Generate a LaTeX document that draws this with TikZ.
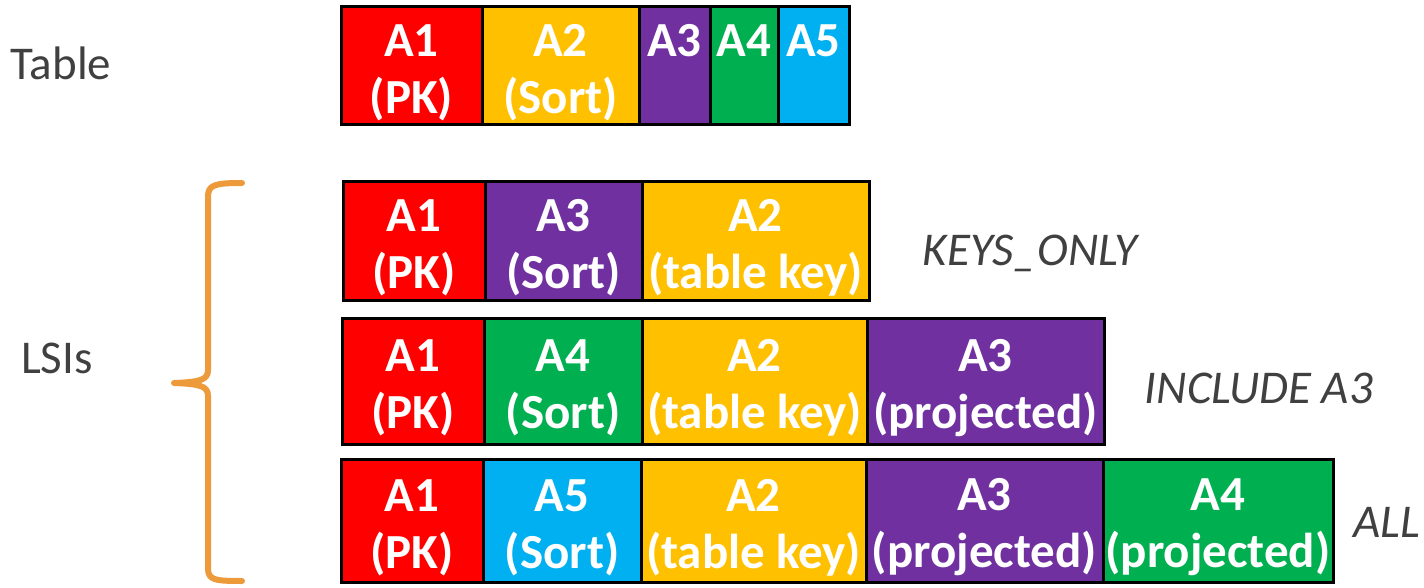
\documentclass[tikz,border=0pt]{standalone}
\usepackage{fontspec}
\setmainfont{Carlito}
\definecolor{pkred}{HTML}{FF0000}
\definecolor{keygold}{HTML}{FFC000}
\definecolor{attpurple}{HTML}{7030A0}
\definecolor{attgreen}{HTML}{00B050}
\definecolor{attblue}{HTML}{00B0F0}
\definecolor{labelgray}{HTML}{404040}
\definecolor{braceorange}{HTML}{ED9A3A}

\begin{document}
\begin{tikzpicture}[x=1pt,y=-1pt]
\tikzset{cell/.style = {draw, line width=3pt, anchor=north west, outer sep=0pt, inner sep=0pt, text=white, align=center, text height=103pt, font=\fontsize{49}{57}\selectfont\bfseries},
         lbl/.style = {text=labelgray, font=\fontsize{47}{56}\selectfont},
         mode/.style = {lbl, font=\fontsize{47}{56}\selectfont\itshape}}
\useasboundingbox (0,0) rectangle (1424,588);

% base table
\node[cell, fill=pkred, minimum width=141pt, minimum height=118pt] (T1) at (341,7) {A1\\(PK)};
\node[cell, fill=keygold, minimum width=157pt, minimum height=118pt] (T2) at (482,7) {A2\\(Sort)};
\node[cell, fill=attpurple, minimum width=71pt, minimum height=118pt] (T3) at (639,7) {A3\\\vphantom{(PK)}};
\node[cell, fill=attgreen, minimum width=68pt, minimum height=118pt] (T4) at (710,7) {A4\\\vphantom{(PK)}};
\node[cell, fill=attblue, minimum width=71pt, minimum height=118pt] (T5) at (778,7) {A5\\\vphantom{(PK)}};

% LSI with KEYS_ONLY
\node[cell, fill=pkred, minimum width=142pt, minimum height=118pt] (K1) at (343,182) {A1\\(PK)};
\node[cell, fill=attpurple, minimum width=157pt, minimum height=118pt] (K2) at (485,182) {A3\\(Sort)};
\node[cell, fill=keygold, minimum width=227pt, minimum height=118pt] (K3) at (642,182) {A2\\(table key)};

% LSI with INCLUDE
\node[cell, fill=pkred, minimum width=142pt, minimum height=126pt] (I1) at (342,318) {A1\\(PK)};
\node[cell, fill=attgreen, minimum width=158pt, minimum height=126pt] (I2) at (484,318) {A4\\(Sort)};
\node[cell, fill=keygold, minimum width=225pt, minimum height=126pt] (I3) at (642,318) {A2\\(table key)};
\node[cell, fill=attpurple, minimum width=237pt, minimum height=126pt] (I4) at (867,318) {A3\\(projected)};

% LSI with ALL
\node[cell, fill=pkred, minimum width=142pt, minimum height=123pt] (L1) at (341,459) {A1\\(PK)};
\node[cell, fill=attblue, minimum width=158pt, minimum height=123pt] (L2) at (483,459) {A5\\(Sort)};
\node[cell, fill=keygold, minimum width=225pt, minimum height=123pt] (L3) at (641,459) {A2\\(table key)};
\node[cell, fill=attpurple, minimum width=237pt, minimum height=123pt] (L4) at (866,459) {A3\\(projected)};
\node[cell, fill=attgreen, minimum width=230pt, minimum height=123pt] (L5) at (1103,459) {A4\\(projected)};

% labels
\node[lbl] (table) at (61,63) {Table};
\node[lbl] (lsis) at (57,358) {LSIs};
\node[mode] (keysonly) at (1030,253) {KEYS\_ONLY};
\node[mode] (include) at (1259,388) {INCLUDE A3};
\node[mode, anchor=west] (all) at (1350,522) {ALL};

% brace
\draw[braceorange, line width=6pt, line cap=round, line join=round]
  (242,183) .. controls (214,183) and (208,185) .. (208,197) -- (208,370)
  .. controls (208,380) and (200,382) .. (174,383)
  .. controls (200,384) and (208,386) .. (208,396) -- (208,568)
  .. controls (208,580) and (214,581) .. (242,581);
\end{tikzpicture}
\end{document}
